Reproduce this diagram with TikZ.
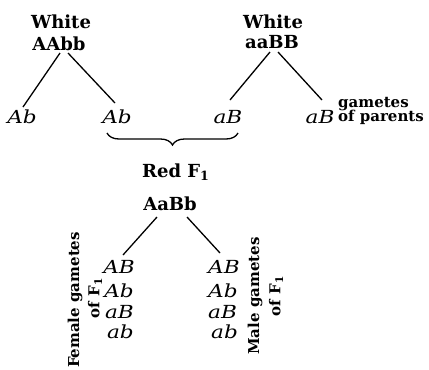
\documentclass[tikz,border=0pt]{standalone}
\usepackage{graphicx}
\usepackage{fontspec}
\setmainfont{DejaVu Serif}
\usetikzlibrary{decorations.pathreplacing}
\newcommand{\subone}{\textsubscript{1}}
\newcommand{\wide}[1]{\scalebox{1.2}[1]{#1}}
\begin{document}
\begin{tikzpicture}[x=1pt,y=-1pt,
  hd/.style={font=\fontsize{18}{18}\selectfont\bfseries, anchor=base, inner sep=0pt},
  gm/.style={font=\fontsize{18}{18}\selectfont\itshape, anchor=base, inner sep=0pt},
  sm/.style={font=\fontsize{15}{15}\selectfont\bfseries, inner sep=0pt},
  ln/.style={line width=1.3pt}]
\useasboundingbox (0,0) rectangle (429,370);
% parents
\node[hd] (w1) at (61,28) {White};
\node[hd] (p1) at (59,50) {AAbb};
\node[hd] (w2) at (273,28) {White};
\node[hd] (p2) at (272,48) {aaBB};
% parental gametes
\node[gm] (g1) at (22,123) {\wide{Ab}};
\node[gm] (g2) at (117,123) {\wide{Ab}};
\node[gm] (g3) at (228,123) {\wide{aB}};
\node[gm] (g4) at (320,123) {\wide{aB}};
\node[sm, anchor=base west] (gt) at (338,107) {gametes};
\node[sm, anchor=base west] (op) at (338,121) {of parents};
\coordinate (p1l) at (60,53); \coordinate (g1t) at (23,107);
\coordinate (p1r) at (68,53); \coordinate (g2t) at (115,103);
\coordinate (p2l) at (270,52); \coordinate (g3t) at (230,100);
\coordinate (p2r) at (278,52); \coordinate (g4t) at (322,100);
\draw[ln] (p1l) -- (g1t);
\draw[ln] (p1r) -- (g2t);
\draw[ln] (p2l) -- (g3t);
\draw[ln] (p2r) -- (g4t);
% brace
\coordinate (bl) at (107,133); \coordinate (br) at (238,133);
\draw[line width=1.3pt, decorate, decoration={brace, mirror, amplitude=12pt}] (bl) -- (br);
% F1
\node[hd, anchor=base west] (red) at (142,177) {Red F\subone};
\node[hd] (f1) at (170,210) {AaBb};
\coordinate (f1l) at (157,217); \coordinate (fl) at (123,255);
\coordinate (f1r) at (187,217); \coordinate (fr) at (220,253);
\draw[ln] (f1l) -- (fl);
\draw[ln] (f1r) -- (fr);
% female gametes
\node[gm, anchor=base east] (fa) at (135,273) {\wide{AB}};
\node[gm, anchor=base east] (fb) at (134,297) {\wide{Ab}};
\node[gm, anchor=base east] (fc) at (134,318) {\wide{aB}};
\node[gm, anchor=base east] (fd) at (134,338) {\wide{ab}};
% male gametes
\node[gm, anchor=base west] (ma) at (208,273) {\wide{AB}};
\node[gm, anchor=base west] (mb) at (208,297) {\wide{Ab}};
\node[gm, anchor=base west] (mc) at (208,318) {\wide{aB}};
\node[gm, anchor=base west] (md) at (211,338) {\wide{ab}};
% rotated labels
\node[sm, rotate=90] (fem) at (75,300) {Female gametes};
\node[sm, rotate=90] (fof) at (95,298) {of F\subone};
\node[sm, rotate=90] (mal) at (255,296) {Male gametes};
\node[sm, rotate=90] (mof) at (276,296) {of F\subone};
\end{tikzpicture}
\end{document}
